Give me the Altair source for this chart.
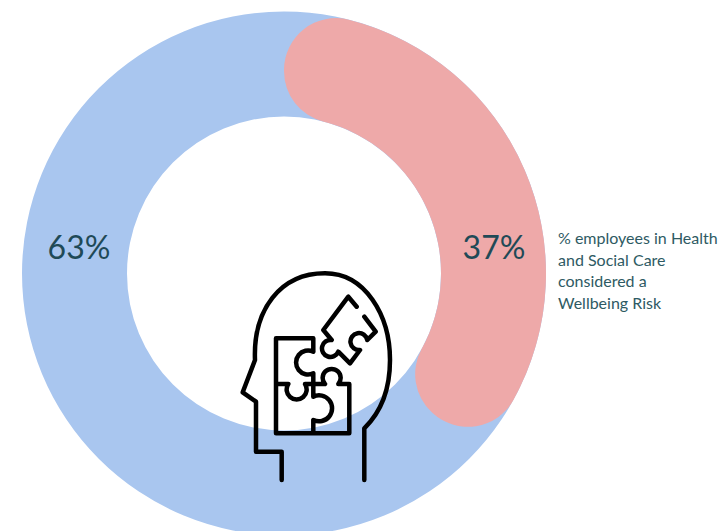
import math

import altair as alt
import pandas as pd

# Share of employees, in percent
segments = ["Not at risk", "Wellbeing Risk"]
shares = [63, 37]
caption_lines = [
    "% employees in Health",
    "and Social Care",
    "considered a",
    "Wellbeing Risk",
]

INK = "#1f4a57"
CAPTION_INK = "#2e5a63"
BLUE = "#a9c6ef"
PINK = "#eea9a9"

CX, CY = 284, 273.5
OUTER, INNER = 262, 157

theta_scale = alt.Scale(domain=[0, sum(shares)], range=[0, 2 * math.pi])

# Full ring underneath, so the rounded ends of the risk arc sit on blue
ring = (
    alt.Chart(pd.DataFrame({"start": [0], "end": [sum(shares)]}))
    .mark_arc(radius=OUTER, innerRadius=INNER, color=BLUE)
    .encode(
        theta=alt.Theta("start:Q", scale=theta_scale),
        theta2="end:Q",
        x=alt.value(CX),
        y=alt.value(CY),
    )
)

risk_arc = (
    alt.Chart(pd.DataFrame({"start": [0], "end": [shares[1]]}))
    .mark_arc(radius=OUTER, innerRadius=INNER, cornerRadius=52, color=PINK)
    .encode(
        theta=alt.Theta("start:Q", scale=theta_scale),
        theta2="end:Q",
        x=alt.value(CX),
        y=alt.value(CY),
    )
)

labels = pd.DataFrame(
    {"label": [f"{shares[0]}%", f"{shares[1]}%"], "px": [79, 494], "py": [249, 249]}
)
percent_text = (
    alt.Chart(labels)
    .mark_text(font="Lato", fontSize=32, color=INK, align="center", baseline="middle")
    .encode(
        text="label:N",
        x=alt.X("px:Q", scale=None),
        y=alt.Y("py:Q", scale=None),
    )
)

caption = (
    alt.Chart(pd.DataFrame({"row": [0]}))
    .mark_text(
        text=caption_lines,
        font="Lato",
        fontSize=16,
        lineHeight=21.7,
        color=CAPTION_INK,
        align="left",
        baseline="middle",
    )
    .encode(x=alt.value(558), y=alt.value(239))
)

# Head-and-puzzle pictogram, drawn as one stroked symbol in pixel coordinates
HEAD = (
    "M281.7 480 V451.7 H256 V401.7 L242.7 392.3 L255 360 "
    "C253 310 280 273.3 325 273.3 C365 273.3 390 315 390 360 "
    "C390 395 378 415 364.3 428.3 V480"
)
LOWER_PIECES = (
    "M313.3 351.7 V338.3 H276 V433.3 H349.3 V384 H338.3 "
    "A9 9 0 1 0 325 384 H305 "
    "A10 10 0 1 1 288.3 384 H276 "
    "M313.3 351.7 A12 12 0 1 0 313.3 373.3 V396.7 "
    "A13 13 0 1 1 313.3 420 V433.3"
)
LOOSE_PIECE = (
    "M356.7 306.7 L348.3 296.7 L323.3 330 L331.7 340 "
    "A8.5 8.5 0 1 0 338.3 351.7 L350 363.3 L360 350 "
    "A8.5 8.5 0 1 1 367.3 340 L375.7 331.7 L364.3 316.7"
)
icon = (
    alt.Chart(pd.DataFrame({"row": [0]}))
    .mark_point(
        shape=f"{HEAD} {LOWER_PIECES} {LOOSE_PIECE}",
        size=4,
        filled=False,
        fill=None,
        stroke="#000000",
        strokeWidth=4.5,
        strokeCap="round",
        strokeJoin="round",
        opacity=1,
    )
    .encode(x=alt.value(0), y=alt.value(0))
)

chart = (
    alt.layer(ring, risk_arc, percent_text, caption, icon)
    .properties(
        width=721,
        height=531,
        padding=0,
        autosize=alt.AutoSizeParams(type="none"),
        background="#ffffff",
    )
    .configure_view(stroke=None)
)

chart.save("out.html", embed_options={"renderer": "svg", "actions": False})
